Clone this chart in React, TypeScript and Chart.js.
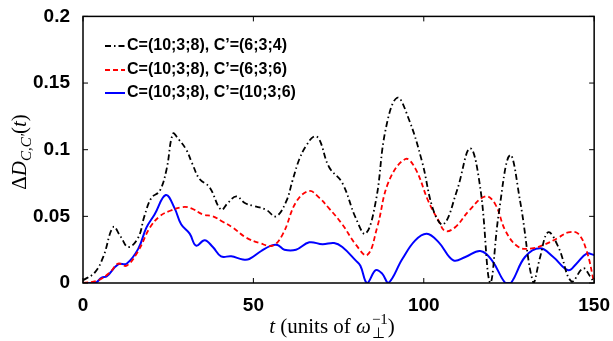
import React, { useEffect, useRef } from "react";
import { Chart, registerables } from "chart.js";
Chart.register(...registerables);

const tBlack = [0, 3.5, 6, 8.9, 11, 13.3, 16.2, 18, 20.1, 22.5, 24.5, 26.4, 28, 30.3, 32, 34.2, 37.1, 40.5, 42.5, 45, 47.5, 49.8, 53.7, 56.6, 59.6, 61.5, 63.5, 65.5, 67.8, 69.3, 72.2, 76.1, 80, 82.9, 85.9, 88.8, 92.2, 95.6, 99.5, 102.9, 105.8, 109.7, 113.6, 116.6, 119.5, 122, 125.3, 128.3, 132.2, 134.1, 136.5, 139.5, 143.4, 146.8, 148.8, 150];
const vBlack = [0.002, 0.008, 0.02, 0.042, 0.035, 0.027, 0.034, 0.05, 0.064, 0.069, 0.085, 0.112, 0.108, 0.1, 0.09, 0.078, 0.072, 0.055, 0.06, 0.065, 0.06, 0.058, 0.055, 0.05, 0.061, 0.077, 0.093, 0.103, 0.11, 0.108, 0.087, 0.075, 0.049, 0.037, 0.061, 0.115, 0.139, 0.123, 0.091, 0.054, 0.044, 0.069, 0.101, 0.071, 0, 0.052, 0.096, 0.061, 0, 0.019, 0.038, 0.027, 0.001, 0.011, 0.005, 0];

const tRed = [0, 4.5, 7.9, 10.3, 12.8, 16.2, 19.6, 22.5, 25.4, 29.3, 31.8, 35.2, 38.1, 41, 44, 47.9, 51.8, 55.7, 58.7, 62.6, 66.4, 69.3, 72.2, 76.1, 80, 83.4, 86.3, 89.7, 94.6, 97.5, 101.4, 104.4, 106.3, 109.3, 113.2, 118.1, 121, 124, 127.8, 131.7, 135.6, 139.5, 142.4, 145.3, 147.8, 150];
const vRed = [0, 0.002, 0.008, 0.0145, 0.013, 0.024, 0.0415, 0.05, 0.054, 0.057, 0.056, 0.0514, 0.05, 0.046, 0.0415, 0.034, 0.03, 0.028, 0.037, 0.061, 0.069, 0.064, 0.056, 0.044, 0.029, 0.021, 0.0415, 0.076, 0.093, 0.086, 0.061, 0.0465, 0.039, 0.042, 0.054, 0.065, 0.059, 0.039, 0.027, 0.026, 0.029, 0.034, 0.038, 0.037, 0.024, 0];

const tBlue = [0, 3.5, 5.5, 7, 10.3, 12.8, 16.2, 18.6, 21, 24.3, 26.9, 28.8, 31.3, 33.2, 35.7, 38.1, 40.5, 43.5, 46.9, 48.8, 52.3, 55.2, 57.1, 59.1, 62.5, 66.4, 70.3, 73.7, 76.1, 80, 81.4, 83.4, 85.9, 87.8, 89.6, 93.7, 97.5, 100.9, 104.4, 108.7, 112.2, 116.6, 120, 123.9, 125.6, 129.7, 134.1, 138, 142.4, 144.8, 147.8, 150];
const vBlue = [0, 0, 0.004, 0.005, 0.014, 0.0145, 0.0256, 0.0415, 0.0514, 0.066, 0.056, 0.044, 0.037, 0.028, 0.032, 0.027, 0.02, 0.02, 0.0177, 0.018, 0.024, 0.028, 0.0285, 0.025, 0.025, 0.0305, 0.029, 0.03, 0.027, 0.017, 0.013, 0, 0.0096, 0.007, 0, 0.018, 0.032, 0.037, 0.0305, 0.017, 0.0195, 0.024, 0.017, 0, 0, 0.0195, 0.026, 0.0195, 0.0096, 0.0145, 0.022, 0.021];

const seriesLabels = ["C=(10;3;8), C’=(6;3;4)", "C=(10;3;8), C’=(6;3;6)", "C=(10;3;8), C’=(10;3;6)"];
const xTickValues = [0, 50, 100, 150];
const yTickValues = [0, 0.05, 0.1, 0.15, 0.2];

const pts = (t: number[], v: number[]) => t.map((x, i) => ({ x, y: v[i] }));

const framePlugin = {
  id: "frame",
  afterDraw(chart: any) {
    const { ctx, chartArea } = chart;
    const { left, right, top, bottom } = chartArea;
    const xs = chart.scales.x;
    const ys = chart.scales.y;
    ctx.save();
    ctx.strokeStyle = "#000";
    ctx.lineWidth = 1.5;
    ctx.strokeRect(left, top, right - left, bottom - top);
    ctx.lineWidth = 1;
    const tl = 5;
    ctx.beginPath();
    xTickValues.forEach((v) => {
      const px = xs.getPixelForValue(v);
      ctx.moveTo(px, bottom); ctx.lineTo(px, bottom - tl);
      ctx.moveTo(px, top); ctx.lineTo(px, top + tl);
    });
    yTickValues.forEach((v) => {
      const py = ys.getPixelForValue(v);
      ctx.moveTo(left, py); ctx.lineTo(left + tl, py);
      ctx.moveTo(right, py); ctx.lineTo(right - tl, py);
    });
    ctx.stroke();

    // legend
    const rows = [46, 70, 93];
    chart.data.datasets.forEach((ds: any, i: number) => {
      const y = rows[i];
      ctx.beginPath();
      ctx.strokeStyle = ds.borderColor;
      ctx.lineWidth = ds.borderWidth;
      ctx.setLineDash(ds.borderDash || []);
      ctx.moveTo(105, y); ctx.lineTo(125, y);
      ctx.stroke();
      ctx.setLineDash([]);
      ctx.fillStyle = "#000";
      ctx.font = "bold 16px 'Liberation Sans', Arial, sans-serif";
      ctx.textBaseline = "middle";
      ctx.textAlign = "left";
      ctx.fillText(ds.label, 127, y);
    });

    // x title
    const serif = "'Liberation Serif', 'Times New Roman', serif";
    const parts: [string, string, number][] = [
      ["t", `italic 21px ${serif}`, 0],
      [" (units of ", `21px ${serif}`, 0],
      ["ω", `italic 21px ${serif}`, 0],
    ];
    ctx.textBaseline = "alphabetic";
    ctx.textAlign = "left";
    let total = 0;
    parts.forEach(([s, f]) => { ctx.font = f; total += ctx.measureText(s).width; });
    ctx.font = `15px ${serif}`;
    const supW = ctx.measureText("−1").width;
    ctx.font = `21px ${serif}`;
    const closeW = ctx.measureText(")").width;
    total += supW + closeW + 1;
    let x = 332 - total / 2;
    const by = 333;
    parts.forEach(([s, f]) => { ctx.font = f; ctx.fillText(s, x, by); x += ctx.measureText(s).width; });
    ctx.font = `15px ${serif}`;
    ctx.fillText("−1", x + 1, by - 9);
    ctx.fillText("⊥", x + 1, by + 5);
    x += supW + 1;
    ctx.font = `21px ${serif}`;
    ctx.fillText(")", x, by);

    // y title
    ctx.save();
    ctx.translate(26, 152);
    ctx.rotate(-Math.PI / 2);
    const yparts: [string, string, number][] = [
      ["Δ", `21px ${serif}`, 0],
      ["D", `italic 21px ${serif}`, 0],
      ["C,C′", `italic 15px ${serif}`, 5],
      ["(", `21px ${serif}`, 0],
      ["t", `italic 21px ${serif}`, 0],
      [")", `21px ${serif}`, 0],
    ];
    let tw = 0;
    yparts.forEach(([s, f]) => { ctx.font = f; tw += ctx.measureText(s).width; });
    let yx = -tw / 2;
    yparts.forEach(([s, f, dy]) => { ctx.font = f; ctx.fillText(s, yx, dy); yx += ctx.measureText(s).width; });
    ctx.restore();

    ctx.restore();
  },
};

export default function App() {
  const ref = useRef<HTMLCanvasElement>(null);
  useEffect(() => {
    if (!ref.current) return;
    const tickFont = { family: "'Liberation Sans', Arial, sans-serif", size: 19, weight: "bold" as const };
    const chart = new Chart(ref.current, {
      type: "line",
      data: {
        datasets: [
          { label: seriesLabels[0], data: pts(tBlack, vBlack), borderColor: "#000000", borderWidth: 1.8, borderDash: [6, 3, 1.5, 3], pointRadius: 0, tension: 0.4, fill: false },
          { label: seriesLabels[1], data: pts(tRed, vRed), borderColor: "#ff0000", borderWidth: 1.8, borderDash: [5, 3], pointRadius: 0, tension: 0.4, fill: false },
          { label: seriesLabels[2], data: pts(tBlue, vBlue), borderColor: "#0000ff", borderWidth: 2, pointRadius: 0, tension: 0.4, fill: false },
        ],
      },
      options: {
        responsive: false,
        animation: false,
        layout: { padding: { left: 0, top: 12, right: 17, bottom: 0 } },
        plugins: { legend: { display: false }, tooltip: { enabled: false } },
        scales: {
          x: {
            type: "linear",
            min: 0,
            max: 150,
            afterBuildTicks: (s: any) => { s.ticks = xTickValues.map((v) => ({ value: v })); },
            afterFit: (s: any) => { s.height = 58; },
            grid: { display: false },
            border: { display: false },
            ticks: { font: tickFont, color: "#000", padding: 3, maxRotation: 0, callback: (v: any) => String(v) },
          },
          y: {
            type: "linear",
            min: 0,
            max: 0.2,
            afterBuildTicks: (s: any) => { s.ticks = yTickValues.map((v) => ({ value: v })); },
            afterFit: (s: any) => { s.width = 83; },
            grid: { display: false },
            border: { display: false },
            ticks: { font: tickFont, color: "#000", padding: 5, callback: (v: any) => String(Number(Number(v).toFixed(2))) },
          },
        },
      },
      plugins: [framePlugin],
    });
    return () => chart.destroy();
  }, []);
  return (
    <div style={{ position: "absolute", left: 0, top: 0, width: 613, height: 341, background: "#fff" }}>
      <canvas ref={ref} width={613} height={341} />
    </div>
  );
}
